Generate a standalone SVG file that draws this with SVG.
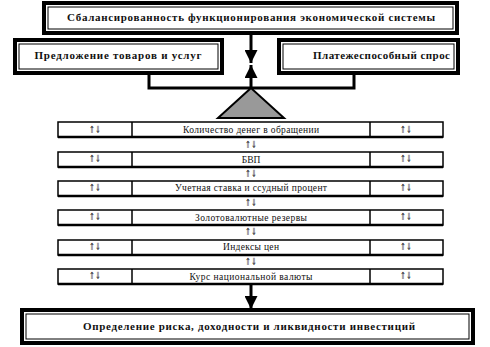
<svg xmlns="http://www.w3.org/2000/svg" width="490" height="347" viewBox="0 0 490 347">
<style>
.box{fill:#fff;stroke:#000;stroke-width:4}
.inner{fill:none;stroke:#000;stroke-width:1}
.btxt{font-family:"Liberation Serif",serif;font-weight:bold;font-size:11px;fill:#111}
.row{fill:#fff;stroke:#000;stroke-width:1.5}
.rowb{stroke:#000;stroke-width:2.5}
.div{stroke:#000;stroke-width:1.5}
.rtxt{font-family:"Liberation Serif",serif;font-size:9.5px;fill:#111}
.arr{font-family:"DejaVu Sans",sans-serif;font-size:10px;fill:#222}
.con{stroke:#000;stroke-width:3;fill:none}
</style>
<defs>
<marker id="ah" markerUnits="userSpaceOnUse" markerWidth="13" markerHeight="13" refX="13" refY="6.5" orient="auto">
<path d="M0,0 L13,6.5 L0,13 z" fill="#000"/>
</marker>
</defs>
<rect width="490" height="347" fill="#fff"/>
<g id="connectors">
<line class="con" x1="251" y1="33" x2="251" y2="63" marker-end="url(#ah)"/>
<line class="con" x1="251" y1="88" x2="251" y2="65" marker-end="url(#ah)"/>
<polyline class="con" points="149,73 149,88 354,88 354,73"/>
<line class="con" x1="251" y1="285" x2="251" y2="309" marker-end="url(#ah)"/>
</g>
<g id="top">
<rect class="box" x="44" y="3" width="413" height="30"/>
<rect class="inner" x="48" y="7" width="405" height="22"/>
<text class="btxt" x="251" y="21" text-anchor="middle" textLength="368" lengthAdjust="spacing">Сбалансированность функционирования экономической системы</text>
</g>
<g id="supply">
<rect class="box" x="15" y="40" width="207" height="33"/>
<rect class="inner" x="19" y="44" width="199" height="25"/>
<text class="btxt" x="118" y="59" text-anchor="middle" textLength="167" lengthAdjust="spacing">Предложение товаров и услуг</text>
</g>
<g id="demand">
<rect class="box" x="279" y="40" width="179" height="33"/>
<rect class="inner" x="283" y="44" width="171" height="25"/>
<text class="btxt" x="313" y="59" textLength="137" lengthAdjust="spacing">Платежеспособный спрос</text>
</g>
<g id="balance">
<polygon points="251,88 218,118 284,118" fill="#999" stroke="#000" stroke-width="2"/>
</g>
<g id="row1">
<rect class="row" x="58" y="122" width="385" height="15"/>
<line class="rowb" x1="58" y1="137" x2="443" y2="137"/>
<line class="div" x1="132" y1="122" x2="132" y2="137"/>
<line class="div" x1="370" y1="122" x2="370" y2="137"/>
<text class="arr" x="95" y="133" text-anchor="middle" textLength="12" lengthAdjust="spacingAndGlyphs">⇑⇓</text>
<text class="rtxt" x="251" y="133" text-anchor="middle" textLength="136" lengthAdjust="spacing">Количество денег в обращении</text>
<text class="arr" x="406" y="133" text-anchor="middle" textLength="12" lengthAdjust="spacingAndGlyphs">⇑⇓</text>
<text class="arr" x="251" y="148" text-anchor="middle" textLength="12" lengthAdjust="spacingAndGlyphs">⇑⇓</text>
</g>
<g id="row2">
<rect class="row" x="58" y="152" width="385" height="15"/>
<line class="rowb" x1="58" y1="167" x2="443" y2="167"/>
<line class="div" x1="132" y1="152" x2="132" y2="167"/>
<line class="div" x1="370" y1="152" x2="370" y2="167"/>
<text class="arr" x="95" y="162" text-anchor="middle" textLength="12" lengthAdjust="spacingAndGlyphs">⇑⇓</text>
<text class="rtxt" x="251" y="163" text-anchor="middle">БВП</text>
<text class="arr" x="406" y="162" text-anchor="middle" textLength="12" lengthAdjust="spacingAndGlyphs">⇑⇓</text>
<text class="arr" x="251" y="177" text-anchor="middle" textLength="12" lengthAdjust="spacingAndGlyphs">⇑⇓</text>
</g>
<g id="row3">
<rect class="row" x="58" y="181" width="385" height="15"/>
<line class="rowb" x1="58" y1="196" x2="443" y2="196"/>
<line class="div" x1="132" y1="181" x2="132" y2="196"/>
<line class="div" x1="370" y1="181" x2="370" y2="196"/>
<text class="arr" x="95" y="191" text-anchor="middle" textLength="12" lengthAdjust="spacingAndGlyphs">⇑⇓</text>
<text class="rtxt" x="251" y="191" text-anchor="middle" textLength="152" lengthAdjust="spacing">Учетная ставка и ссудный процент</text>
<text class="arr" x="406" y="191" text-anchor="middle" textLength="12" lengthAdjust="spacingAndGlyphs">⇑⇓</text>
<text class="arr" x="251" y="206" text-anchor="middle" textLength="12" lengthAdjust="spacingAndGlyphs">⇑⇓</text>
</g>
<g id="row4">
<rect class="row" x="58" y="210" width="385" height="15"/>
<line class="rowb" x1="58" y1="225" x2="443" y2="225"/>
<line class="div" x1="132" y1="210" x2="132" y2="225"/>
<line class="div" x1="370" y1="210" x2="370" y2="225"/>
<text class="arr" x="95" y="220" text-anchor="middle" textLength="12" lengthAdjust="spacingAndGlyphs">⇑⇓</text>
<text class="rtxt" x="251" y="221" text-anchor="middle" textLength="112" lengthAdjust="spacing">Золотовалютные резервы</text>
<text class="arr" x="406" y="220" text-anchor="middle" textLength="12" lengthAdjust="spacingAndGlyphs">⇑⇓</text>
<text class="arr" x="251" y="235" text-anchor="middle" textLength="12" lengthAdjust="spacingAndGlyphs">⇑⇓</text>
</g>
<g id="row5">
<rect class="row" x="58" y="240" width="385" height="15"/>
<line class="rowb" x1="58" y1="255" x2="443" y2="255"/>
<line class="div" x1="132" y1="240" x2="132" y2="255"/>
<line class="div" x1="370" y1="240" x2="370" y2="255"/>
<text class="arr" x="95" y="250" text-anchor="middle" textLength="12" lengthAdjust="spacingAndGlyphs">⇑⇓</text>
<text class="rtxt" x="251" y="250" text-anchor="middle" textLength="56" lengthAdjust="spacing">Индексы цен</text>
<text class="arr" x="406" y="250" text-anchor="middle" textLength="12" lengthAdjust="spacingAndGlyphs">⇑⇓</text>
<text class="arr" x="251" y="265" text-anchor="middle" textLength="12" lengthAdjust="spacingAndGlyphs">⇑⇓</text>
</g>
<g id="row6">
<rect class="row" x="58" y="269" width="385" height="15"/>
<line class="rowb" x1="58" y1="284" x2="443" y2="284"/>
<line class="div" x1="132" y1="269" x2="132" y2="284"/>
<line class="div" x1="370" y1="269" x2="370" y2="284"/>
<text class="arr" x="95" y="279" text-anchor="middle" textLength="12" lengthAdjust="spacingAndGlyphs">⇑⇓</text>
<text class="rtxt" x="251" y="280" text-anchor="middle" textLength="123" lengthAdjust="spacing">Курс национальной валюты</text>
<text class="arr" x="406" y="279" text-anchor="middle" textLength="12" lengthAdjust="spacingAndGlyphs">⇑⇓</text>
</g>
<g id="result">
<rect class="box" x="22" y="310" width="451" height="33"/>
<rect class="inner" x="26" y="314" width="443" height="25"/>
<text class="btxt" x="249" y="330" text-anchor="middle" textLength="332" lengthAdjust="spacing">Определение риска, доходности и ликвидности инвестиций</text>
</g>
</svg>
